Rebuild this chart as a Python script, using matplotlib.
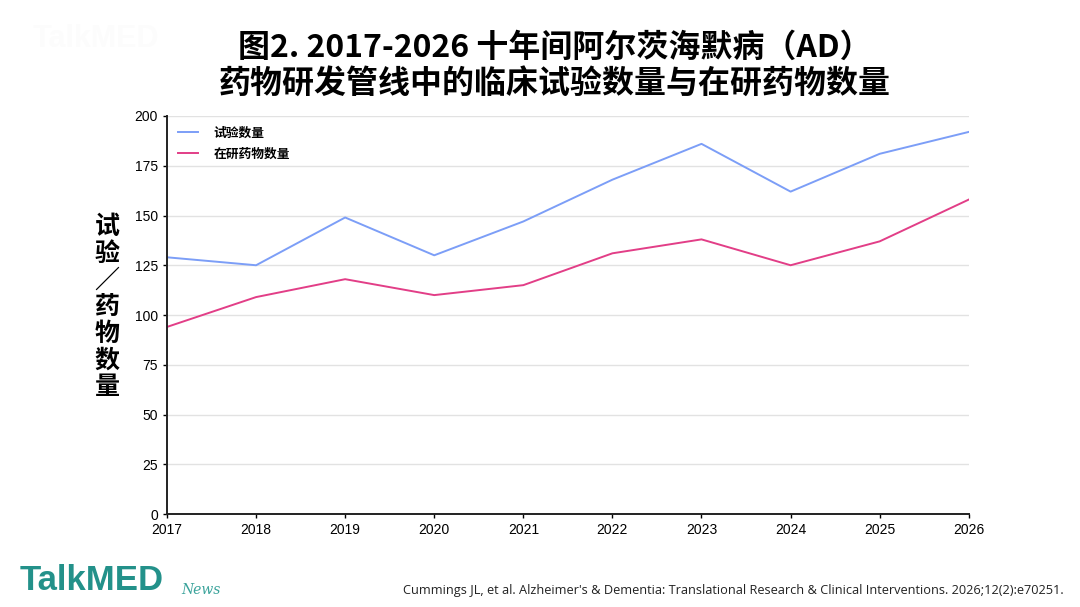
import matplotlib
matplotlib.use("Agg")
import matplotlib.pyplot as plt

plt.rcParams['font.family'] = ['Noto Sans CJK SC', 'DejaVu Sans']

# data
years = [2017, 2018, 2019, 2020, 2021, 2022, 2023, 2024, 2025, 2026]
trials = [129, 125, 149, 130, 147, 168, 186, 162, 181, 192]
drugs = [94, 109, 118, 110, 115, 131, 138, 125, 137, 158]
y_ticks = [0, 25, 50, 75, 100, 125, 150, 175, 200]

title = "图2. 2017-2026 十年间阿尔茨海默病（AD）\n药物研发管线中的临床试验数量与在研药物数量"
ylabel = "试\n验\n／\n药\n物\n数\n量"
source = "Cummings JL, et al. Alzheimer's & Dementia: Translational Research & Clinical Interventions. 2026;12(2):e70251."

fig = plt.figure(figsize=(10.8, 6.07), dpi=100)
ax = fig.add_axes([0.1546, 0.1532, 0.7424, 0.6557])

ax.plot(years, trials, color='#7c9ef7', lw=1.4, label='试验数量')
ax.plot(years, drugs, color='#e23e87', lw=1.4, label='在研药物数量')

ax.set_xlim(2017, 2026)
ax.set_ylim(0, 200)
ax.set_xticks(years)
ax.set_yticks(y_ticks)
ax.tick_params(labelsize=10, length=3, width=1, colors='black')
for lab in ax.get_xticklabels() + ax.get_yticklabels():
    lab.set_family(['Liberation Sans', 'DejaVu Sans'])
ax.grid(axis='y', color='#e2e2e2', lw=1)
ax.set_axisbelow(True)
for s in ['top', 'right']:
    ax.spines[s].set_visible(False)
for s in ['left', 'bottom']:
    ax.spines[s].set_color('#222222')
    ax.spines[s].set_linewidth(1.4)

leg = ax.legend(loc='upper left', frameon=False, prop={'size': 9.2, 'weight': 'bold'},
                handlelength=1.6, handletextpad=1.2, borderaxespad=0.25,
                labelspacing=0.6, borderpad=0.6)

fig.text(0.514, 0.892, title, ha='center', va='center', fontsize=23, fontweight='bold',
         linespacing=1.15)
fig.text(0.099, 0.494, ylabel, ha='center', va='center', fontsize=18, fontweight='bold',
         linespacing=1.14)

# faint watermark top-left
fig.text(0.03, 0.935, "TalkMED", fontsize=22, color='#fcfcfc', fontweight='bold',
         family=['Liberation Sans', 'DejaVu Sans'], ha='left', va='center')

# logo and source
fig.text(0.018, 0.043, "TalkMED", fontsize=25, color='#23918a', fontweight='bold',
         family=['Liberation Sans', 'DejaVu Sans'], ha='left', va='center')
fig.text(0.168, 0.028, "News", fontsize=10, color='#3aa39b', style='italic',
         family=['DejaVu Serif'], ha='left', va='center')
fig.text(0.985, 0.028, source, fontsize=9.2, ha='right', va='center',
         family=['Open Sans', 'DejaVu Sans'], color='#222222')

fig.savefig("out.png", dpi=100)
